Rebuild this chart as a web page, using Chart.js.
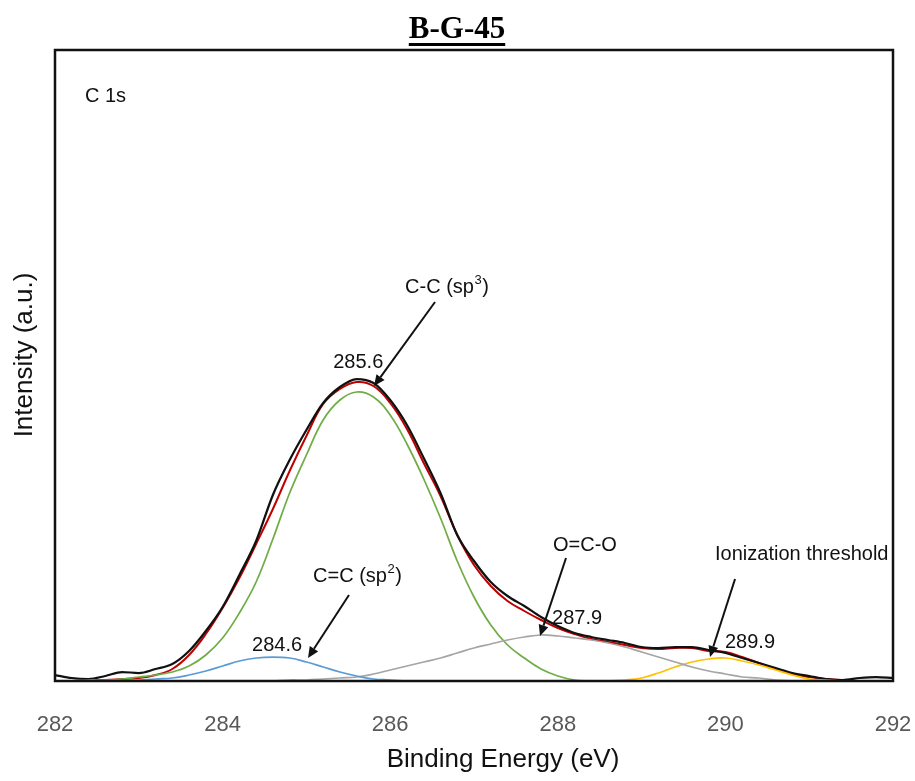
<!DOCTYPE html>
<html>
<head>
<meta charset="utf-8">
<title>B-G-45 C 1s</title>
<script src="https://cdn.jsdelivr.net/npm/chart.js@4.4.1/dist/chart.umd.min.js"></script>
<style>
  html, body { margin: 0; padding: 0; background: #fff; }
  #wrap { width: 915px; height: 781px; }
</style>
</head>
<body>
<div id="wrap"><canvas id="xpsChart" width="915" height="781"></canvas></div>
<script>
'use strict';

// data (binding energy in eV, intensity in arbitrary units)

let energy = [282.0, 282.2, 282.4, 282.6, 282.8, 283.0, 283.2, 283.4, 283.6, 283.8,
  284.0, 284.2, 284.4, 284.6, 284.8, 285.0, 285.2, 285.4, 285.6, 285.8,
  286.0, 286.2, 286.4, 286.6, 286.8, 287.0, 287.2, 287.4, 287.6, 287.8,
  288.0, 288.2, 288.4, 288.6, 288.8, 289.0, 289.2, 289.4, 289.6, 289.8,
  290.0, 290.2, 290.4, 290.6, 290.8, 291.0, 291.2, 291.4, 291.6, 291.8, 292.0];

let measured = [6, 3, 2, 5, 9, 8, 12, 17, 30, 50,
  74, 106, 140, 186, 221, 251, 278, 294, 302, 298,
  281, 256, 223, 188, 146, 120, 99, 85, 75, 64,
  55, 48, 44, 41, 38, 34, 33, 34, 34, 31,
  28, 23, 18, 13, 8, 5, 2, 1, 3, 4, 3];

let envelope = [0, 0, 1, 1, 2, 3, 6, 12, 26, 47,
  73, 103, 137, 172, 210, 245, 277, 292, 299, 295,
  278, 252, 218, 185, 146, 116, 95, 80, 70, 61,
  53, 47, 42, 39, 36, 33, 32, 33, 33, 30,
  29, 24, 18, 12, 7, 4, 2, 1, 0, 0, 0];

let peakCC = [null, 0, 1, 1, 2, 4, 6, 9, 15, 26,
  43, 68, 99, 142, 188, 226, 261, 281, 289, 284,
  266, 237, 202, 163, 120, 84, 56, 36, 23, 12,
  5, 1, 0, null, null, null, null, null, null, null,
  null, null, null, null, null, null, null, null, null, null, null];

let peakCeqC = [null, null, null, null, 0, 1, 2, 3, 6, 10,
  15, 20, 23, 24, 23, 19, 14, 9, 5, 2,
  1, 0, null, null, null, null, null, null, null, null,
  null, null, null, null, null, null, null, null, null, null,
  null, null, null, null, null, null, null, null, null, null, null];

let peakOCO = [null, null, null, null, null, null, null, null, null, null,
  null, null, null, 0, 1, 1, 2, 3, 4, 7,
  11, 15, 19, 23, 28, 33, 37, 41, 44, 46,
  45, 43, 41, 38, 34, 29, 24, 19, 14, 10,
  7, 4, 3, 1, 0, null, null, null, null, null, null];

let peakIon = [null, null, null, null, null, null, null, null, null, null,
  null, null, null, null, null, null, null, null, null, null,
  null, null, null, null, null, null, null, null, null, null,
  null, null, null, 0, 1, 3, 8, 14, 19, 22,
  23, 20, 16, 11, 6, 2, 1, 0, null, null, null];

let xTicks = [282, 284, 286, 288, 290, 292];

// text labels placed in data coordinates
let notes = [
  { text: 'C 1s', e: 282.358, i: 579 },
  { text: 'C-C (sp', sup: '3', close: ')', e: 286.177, i: 388 },
  { text: '285.6', e: 285.32, i: 313 },
  { text: 'C=C (sp', sup: '2', close: ')', e: 285.079, i: 99 },
  { text: '284.6', e: 284.351, i: 30 },
  { text: 'O=C-O', e: 287.943, i: 130 },
  { text: '287.9', e: 287.931, i: 57 },
  { text: 'Ionization threshold', e: 289.876, i: 121 },
  { text: '289.9', e: 289.995, i: 33 }
];

let arrows = [
  { e1: 286.535, i1: 379, e2: 285.807, i2: 295 },
  { e1: 285.508, i1: 86, e2: 285.019, i2: 23 },
  { e1: 288.098, i1: 123, e2: 287.788, i2: 45 },
  { e1: 290.115, i1: 102, e2: 289.816, i2: 24 }
];

// helpers

function toPoints(values) {
  let pts = [];
  for (let i = 0; i < energy.length; i++) {
    pts.push({ x: energy[i], y: values[i] });
  }
  return pts;
}

function lineSet(label, values, color, width, smooth) {
  let set = {
    label: label,
    data: toPoints(values),
    borderColor: color,
    borderWidth: width,
    pointRadius: 0,
    fill: false,
    spanGaps: false
  };
  if (smooth) {
    set.tension = 0.4;
  } else {
    set.cubicInterpolationMode = 'monotone';
  }
  return set;
}

const sansFont = '"Liberation Sans", Arial, Helvetica, sans-serif';

const decorPlugin = {
  id: 'decor',
  afterDatasetsDraw(chart) {
    const ctx = chart.ctx;
    const area = chart.chartArea;
    const xs = chart.scales.x;
    const ys = chart.scales.y;

    ctx.save();

    // plot frame
    ctx.strokeStyle = '#111';
    ctx.lineWidth = 2.5;
    ctx.strokeRect(area.left, area.top, area.right - area.left, area.bottom - area.top);

    // labels
    ctx.fillStyle = '#111';
    ctx.textAlign = 'left';
    ctx.textBaseline = 'alphabetic';
    notes.forEach(function (n) {
      let px = xs.getPixelForValue(n.e);
      let py = ys.getPixelForValue(n.i);
      ctx.font = '20px ' + sansFont;
      ctx.fillText(n.text, px, py);
      if (n.sup) {
        let w = ctx.measureText(n.text).width;
        ctx.font = '13px ' + sansFont;
        ctx.fillText(n.sup, px + w + 0.5, py - 9);
        let ws = ctx.measureText(n.sup).width;
        ctx.font = '20px ' + sansFont;
        ctx.fillText(n.close, px + w + ws + 1, py);
      }
    });

    // arrows
    ctx.strokeStyle = '#111';
    ctx.fillStyle = '#111';
    ctx.lineWidth = 2;
    arrows.forEach(function (a) {
      let x1 = xs.getPixelForValue(a.e1);
      let y1 = ys.getPixelForValue(a.i1);
      let x2 = xs.getPixelForValue(a.e2);
      let y2 = ys.getPixelForValue(a.i2);
      let ang = Math.atan2(y2 - y1, x2 - x1);
      let head = 11;
      let bx = x2 - head * Math.cos(ang);
      let by = y2 - head * Math.sin(ang);
      ctx.beginPath();
      ctx.moveTo(x1, y1);
      ctx.lineTo(bx, by);
      ctx.stroke();
      ctx.beginPath();
      ctx.moveTo(x2, y2);
      ctx.lineTo(bx + 5 * Math.sin(ang), by - 5 * Math.cos(ang));
      ctx.lineTo(bx - 5 * Math.sin(ang), by + 5 * Math.cos(ang));
      ctx.closePath();
      ctx.fill();
    });

    // axis titles
    ctx.fillStyle = '#111';
    ctx.font = '26px ' + sansFont;
    ctx.textAlign = 'center';
    ctx.fillText('Binding Energy (eV)', 503, 767);
    ctx.save();
    ctx.translate(32, 355);
    ctx.rotate(-Math.PI / 2);
    ctx.fillText('Intensity (a.u.)', 0, 0);
    ctx.restore();

    // underlined title
    ctx.font = 'bold 31px "Liberation Serif", "Times New Roman", serif';
    ctx.textAlign = 'center';
    ctx.fillStyle = '#000';
    ctx.fillText('B-G-45', 457, 38);
    let tw = ctx.measureText('B-G-45').width;
    ctx.fillRect(457 - tw / 2, 43, tw, 3);

    ctx.restore();
  }
};

const data = {
  datasets: [
    lineSet('C=C (sp2)', peakCeqC, '#5b9bd5', 1.75, true),
    lineSet('O=C-O', peakOCO, '#a5a5a5', 1.75, true),
    lineSet('Ionization threshold', peakIon, '#ffc000', 1.75, true),
    lineSet('C-C (sp3)', peakCC, '#70ad47', 1.75, true),
    lineSet('Measured', measured, '#111111', 2.25, false),
    lineSet('Fit', envelope, '#c00000', 2, true)
  ]
};

const config = {
  type: 'line',
  data: data,
  plugins: [decorPlugin],
  options: {
    responsive: false,
    animation: false,
    layout: {
      padding: { top: 50, right: 22, left: 0, bottom: 0 }
    },
    plugins: {
      legend: { display: false },
      tooltip: { enabled: false },
      title: { display: false }
    },
    scales: {
      x: {
        type: 'linear',
        min: 282,
        max: 292,
        afterFit: function (scale) {
          scale.height = 100;
          scale.paddingLeft = 0;
          scale.paddingRight = 0;
        },
        afterBuildTicks: function (scale) {
          scale.ticks = xTicks.map(function (v) { return { value: v }; });
        },
        grid: { display: false, drawTicks: false },
        border: { display: false },
        ticks: {
          padding: 31,
          maxRotation: 0,
          color: '#595959',
          font: { family: sansFont, size: 22 }
        }
      },
      y: {
        min: 0,
        max: 631,
        afterFit: function (scale) {
          scale.width = 55;
          scale.paddingTop = 0;
          scale.paddingBottom = 0;
        },
        grid: { display: false, drawTicks: false },
        border: { display: false },
        ticks: { display: false }
      }
    }
  }
};

let canvasChart = document.getElementById('xpsChart');
const xpsChart = new Chart(canvasChart, config);
</script>
</body>
</html>
